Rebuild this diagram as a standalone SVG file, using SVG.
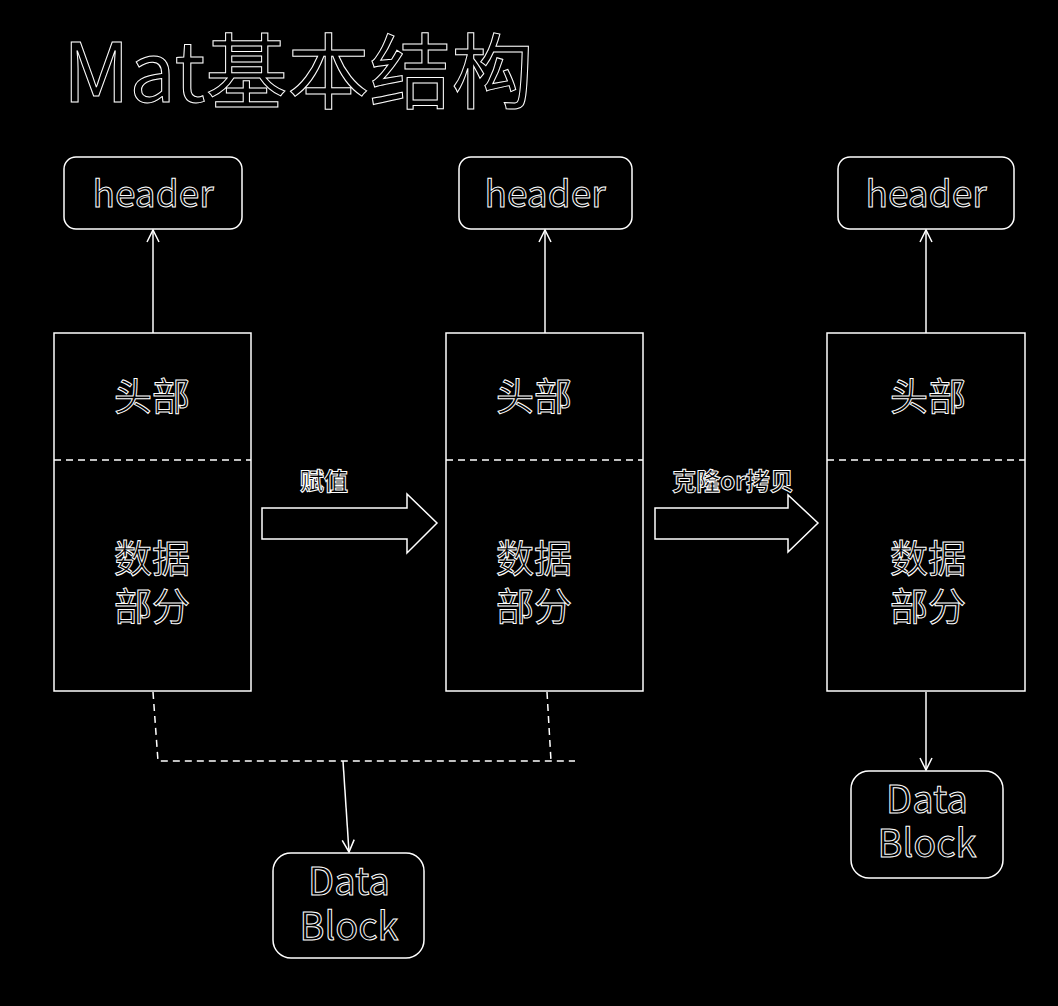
<svg xmlns="http://www.w3.org/2000/svg" width="1058" height="1006" viewBox="0 0 1058 1006">
<defs>
<style>
.bg{fill:#000}
.box{fill:#000;stroke:#fff;stroke-width:1.5}
.t{fill:#000;stroke:#fff;stroke-width:1;font-family:"Noto Sans CJK SC","Noto Sans",sans-serif;text-anchor:middle}
.ln{fill:none;stroke:#fff;stroke-width:1.5}
.dash{fill:none;stroke:#fff;stroke-width:1.5;stroke-dasharray:7 5}
.barrow{fill:none;stroke:#fff;stroke-width:1.5;stroke-linejoin:miter}
</style>
<marker id="ah" markerUnits="userSpaceOnUse" markerWidth="16" markerHeight="16" viewBox="0 0 16 16" refX="14" refY="8" orient="auto">
<path d="M2,2 L14,8 L2,14" fill="none" stroke="#fff" stroke-width="1.5"/>
</marker>
</defs>
<rect class="bg" x="0" y="0" width="1058" height="1006"/>
<text class="t" x="63" y="102" font-size="82" style="text-anchor:start">Mat基本结构</text>

<g id="connectors">
<line class="ln" x1="153" y1="333" x2="153" y2="230" marker-end="url(#ah)"/>
<line class="ln" x1="545" y1="333" x2="545" y2="230" marker-end="url(#ah)"/>
<line class="ln" x1="926" y1="333" x2="926" y2="230" marker-end="url(#ah)"/>
<polyline class="dash" points="153,692 158,761 575,761"/>
<polyline class="dash" points="547,692 551,761"/>
<line class="ln" x1="343" y1="761" x2="349" y2="852" marker-end="url(#ah)"/>
<line class="ln" x1="926" y1="692" x2="926" y2="770" marker-end="url(#ah)"/>
<polygon class="barrow" points="262,508 407,508 407,494 437,523 407,553 407,539 262,539"/>
<polygon class="barrow" points="655,508 788,508 788,495 818,523 788,552 788,539 655,539"/>
<text class="t" x="324" y="490" font-size="24" font-weight="bold">赋值</text>
<text class="t" x="733" y="490" font-size="24" font-weight="bold">克隆or拷贝</text>
</g>

<g id="header1"><rect class="box" x="64" y="157" width="178" height="72" rx="12"/><text class="t" x="153" y="207" font-size="37">header</text></g>
<g id="header2"><rect class="box" x="459" y="157" width="173" height="72" rx="12"/><text class="t" x="545" y="207" font-size="37">header</text></g>
<g id="header3"><rect class="box" x="838" y="157" width="176" height="72" rx="12"/><text class="t" x="926" y="207" font-size="37">header</text></g>

<g id="mat1"><rect class="box" x="54" y="333" width="197" height="358"/><line class="dash" x1="54" y1="460" x2="251" y2="460"/>
<text class="t" x="152" y="410" font-size="38">头部</text><text class="t" font-size="38"><tspan x="152" y="572">数据</tspan><tspan x="152" y="620">部分</tspan></text></g>
<g id="mat2"><rect class="box" x="446" y="333" width="197" height="358"/><line class="dash" x1="446" y1="460" x2="643" y2="460"/>
<text class="t" x="534" y="410" font-size="38">头部</text><text class="t" font-size="38"><tspan x="534" y="572">数据</tspan><tspan x="534" y="620">部分</tspan></text></g>
<g id="mat3"><rect class="box" x="827" y="333" width="198" height="358"/><line class="dash" x1="827" y1="460" x2="1025" y2="460"/>
<text class="t" x="928" y="410" font-size="38">头部</text><text class="t" font-size="38"><tspan x="928" y="572">数据</tspan><tspan x="928" y="620">部分</tspan></text></g>

<g id="datablock1"><rect class="box" x="273" y="853" width="151" height="105" rx="18"/><text class="t" font-size="38"><tspan x="349" y="895">Data</tspan><tspan x="349" y="940">Block</tspan></text></g>
<g id="datablock2"><rect class="box" x="851" y="771" width="152" height="107" rx="18"/><text class="t" font-size="38"><tspan x="927" y="813">Data</tspan><tspan x="927" y="857">Block</tspan></text></g>
</svg>
